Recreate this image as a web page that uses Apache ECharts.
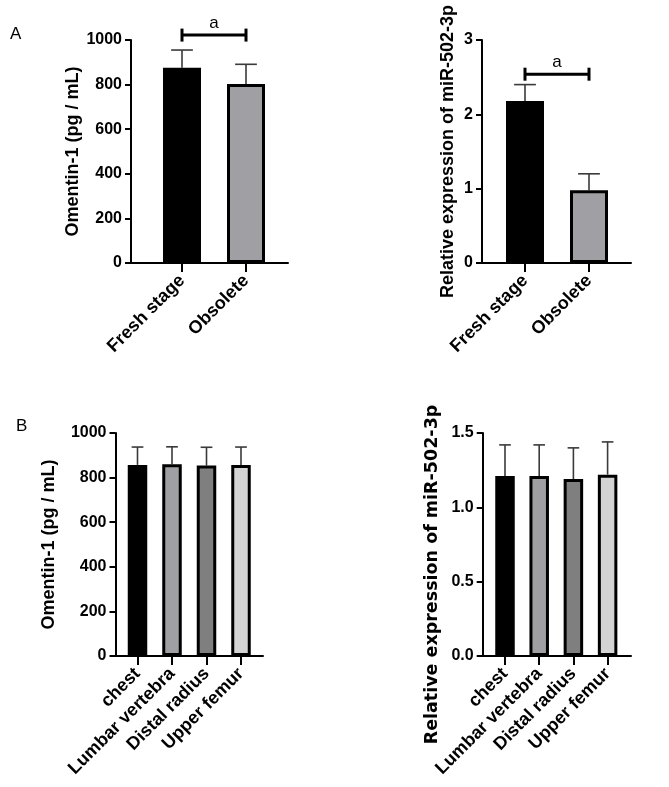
<!DOCTYPE html>
<html>
<head>
<meta charset="utf-8">
<script src="https://cdn.jsdelivr.net/npm/echarts@6/dist/echarts.min.js"></script>
<style>
html,body{margin:0;padding:0;background:#fff;}
#chart{width:669px;height:787px;}
</style>
</head>
<body>
<div id="chart"></div>
<script>
// ---------- data ----------
const catsA = ['Fresh stage', 'Obsolete'];
const omentinA = [876, 803];
const omentinA_sd = [79, 88];
const mirA = [2.18, 0.98];
const mirA_sd = [0.22, 0.22];
const sigOmentinA = 1022;   // height of significance bracket
const sigMirA = 2.54;
const sigLabel = 'a';

const catsB = ['chest', 'Lumbar vertebra', 'Distal radius', 'Upper femur'];
const omentinB = [857, 860, 854, 857];
const omentinB_sd = [80, 78, 82, 80];
const mirB = [1.21, 1.21, 1.19, 1.22];
const mirB_sd = [0.21, 0.21, 0.21, 0.22];

const yTicksOmentin = [0, 200, 400, 600, 800, 1000];
const yTicksMirA = [0, 1, 2, 3];
const yTicksMirB = ['0.0', '0.5', '1.0', '1.5'];

const colorsA = ['#000000', '#a0a0a4'];
const colorsB = ['#000000', '#a0a0a4', '#7f7f7f', '#d4d4d4'];

// ---------- helpers ----------
const FONT = '"Liberation Sans", Arial, Helvetica, sans-serif';
const grids = [], xAxes = [], yAxes = [], series = [];

function addPanel(o) {
  const fi = grids.length;
  // frame grid: y axis + full-length x axis line
  grids.push({left: o.frameLeft, top: o.top, width: o.frameWidth, height: o.height});
  const bi = grids.length;
  // bar grid: bands centred on the ticks
  grids.push({left: o.barLeft, top: o.top, width: o.barWidth, height: o.height});

  xAxes.push({gridIndex: fi, type: 'value', min: 0, max: 1,
    axisLine: {show: true, lineStyle: {color: '#000', width: 2}},
    axisTick: {show: false}, axisLabel: {show: false}, splitLine: {show: false}});
  yAxes.push({gridIndex: fi, type: 'value', min: o.min, max: o.max, interval: o.interval,
    name: o.name, nameLocation: 'middle', nameGap: o.nameGap,
    nameTextStyle: Object.assign({fontFamily: FONT, fontWeight: 'bold', fontSize: 18, color: '#000'}, o.nameStyle || {}),
    axisLine: {show: true, lineStyle: {color: '#000', width: 2}},
    axisTick: {show: true, length: 6, lineStyle: {color: '#000', width: 2}},
    axisLabel: {show: true, margin: 9, fontFamily: FONT, fontWeight: 'bold', fontSize: 16, color: '#000',
      formatter: o.tickFormatter},
    splitLine: {show: false}});

  xAxes.push({gridIndex: bi, type: 'category', data: o.cats,
    axisLine: {show: false},
    axisTick: {show: true, alignWithLabel: true, length: 9, lineStyle: {color: '#000', width: 2}},
    axisLabel: {show: true, interval: 0, rotate: 45, margin: 15, fontFamily: FONT, fontWeight: 'bold', fontSize: 18, color: '#000'},
    splitLine: {show: false}});
  yAxes.push({gridIndex: bi, type: 'value', min: o.min, max: o.max, show: false});

  const xi = xAxes.length - 1, yi = yAxes.length - 1;
  series.push({type: 'bar', xAxisIndex: xi, yAxisIndex: yi, barWidth: o.barW, z: 3,
    data: o.values.map((v, i) => ({value: v, itemStyle: {color: o.colors[i], borderColor: '#000', borderWidth: 3}})),
    animation: false});
  series.push({type: 'custom', xAxisIndex: xi, yAxisIndex: yi, z: 2, animation: false,
    data: o.values.map((v, i) => [i, v, o.sd[i]]),
    encode: {x: 0, y: 1},
    renderItem: function (params, api) {
      const x = api.value(0), m = api.value(1), s = api.value(2);
      const p0 = api.coord([x, m]);
      const p1 = api.coord([x, m + s]);
      const hw = api.size([1, 0])[0] * 0.17;
      const st = {stroke: '#3a3a3a', lineWidth: 1.6};
      return {type: 'group', children: [
        {type: 'line', shape: {x1: p0[0], y1: p0[1], x2: p1[0], y2: p1[1]}, style: st},
        {type: 'line', shape: {x1: p1[0] - hw, y1: p1[1], x2: p1[0] + hw, y2: p1[1]}, style: st}
      ]};
    }});
  if (o.sig != null) {
    series.push({type: 'custom', xAxisIndex: xi, yAxisIndex: yi, z: 4, animation: false, clip: false,
      data: [[0, 1, o.sig]],
      encode: {x: [0, 1], y: 2},
      renderItem: function (params, api) {
        const a = api.coord([api.value(0), api.value(2)]);
        const b = api.coord([api.value(1), api.value(2)]);
        const st = {stroke: '#000', lineWidth: 3};
        return {type: 'group', children: [
          {type: 'line', shape: {x1: a[0], y1: a[1], x2: b[0], y2: b[1]}, style: st},
          {type: 'line', shape: {x1: a[0], y1: a[1] - 6.5, x2: a[0], y2: a[1] + 6.5}, style: st},
          {type: 'line', shape: {x1: b[0], y1: b[1] - 6.5, x2: b[0], y2: b[1] + 6.5}, style: st},
          {type: 'text', x: (a[0] + b[0]) / 2, y: a[1] - 11.5,
            style: {text: sigLabel, fontFamily: FONT, fontSize: 17, fill: '#000', align: 'center', verticalAlign: 'middle'}}
        ]};
      }});
  }
}

addPanel({frameLeft: 131, frameWidth: 157, barLeft: 150, barWidth: 128, top: 40, height: 223,
  min: 0, max: 1000, interval: 200, name: 'Omentin-1 (pg / mL)', nameGap: 46,
  tickFormatter: v => String(yTicksOmentin[Math.round(v / 200)]),
  cats: catsA, values: omentinA, sd: omentinA_sd, colors: colorsA, barW: 38, sig: sigOmentinA});

addPanel({frameLeft: 482, frameWidth: 149, barLeft: 493, barWidth: 128, top: 40, height: 223,
  min: 0, max: 3, interval: 1, name: 'Relative expression of miR-502-3p', nameGap: 25,
  tickFormatter: v => String(yTicksMirA[Math.round(v)]),
  cats: catsA, values: mirA, sd: mirA_sd, colors: colorsA, barW: 38, sig: sigMirA});

addPanel({frameLeft: 115.5, frameWidth: 147.5, barLeft: 120.25, barWidth: 138, top: 433, height: 223,
  min: 0, max: 1000, interval: 200, name: 'Omentin-1 (pg / mL)', nameGap: 57,
  tickFormatter: v => String(yTicksOmentin[Math.round(v / 200)]),
  cats: catsB, values: omentinB, sd: omentinB_sd, colors: colorsB, barW: 19.5});

addPanel({frameLeft: 482.7, frameWidth: 148.3, barLeft: 487.9, barWidth: 136.8, top: 433, height: 223,
  min: 0, max: 1.5, interval: 0.5, name: 'Relative expression of miR-502-3p', nameGap: 41,
  nameStyle: {fontFamily: '"DejaVu Sans", sans-serif', fontSize: 17.5, padding: [0, 60, 0, 0]},
  tickFormatter: v => yTicksMirB[Math.round(v / 0.5)],
  cats: catsB, values: mirB, sd: mirB_sd, colors: colorsB, barW: 19.5});

const chart = echarts.init(document.getElementById('chart'), null, {renderer: 'canvas'});
chart.setOption({
  animation: false,
  backgroundColor: '#fff',
  grid: grids, xAxis: xAxes, yAxis: yAxes, series: series,
  graphic: [
    {type: 'text', left: 10, top: 26, style: {text: 'A', fontFamily: FONT, fontSize: 17, fill: '#000'}},
    {type: 'text', left: 16, top: 418, style: {text: 'B', fontFamily: FONT, fontSize: 17, fill: '#000'}}
  ]
});
</script>
</body>
</html>
